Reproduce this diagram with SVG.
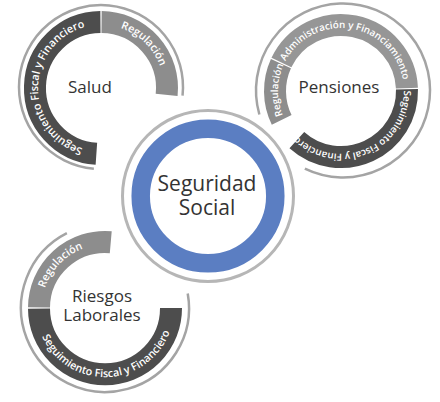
<svg xmlns="http://www.w3.org/2000/svg" width="440" height="402" viewBox="0 0 440 402">
<style>
.ring{fill:none;stroke:#a4a4a4;stroke-width:2.5}
.dark{fill:none;stroke:#4d4d4d;stroke-width:22}
.mid{fill:none;stroke:#8d8d8d;stroke-width:22}
.mid2{fill:none;stroke:#969696;stroke-width:22}
.bl{font-family:"Open Sans","Liberation Sans",sans-serif;font-size:10.8px;font-weight:600;fill:#ffffff}
.bs{font-family:"Open Sans","Liberation Sans",sans-serif;font-size:9.8px;font-weight:600;fill:#ffffff}
.lab{font-family:"Open Sans","Liberation Sans",sans-serif;font-size:17px;fill:#333333;text-anchor:middle}
.big{font-family:"Open Sans","Liberation Sans",sans-serif;font-size:21px;fill:#333333;text-anchor:middle}
</style>
<defs>
<path id="tSaludD" d="M 110.86 150.22 A 63 63 0 1 1 113.02 26.16"/>
<path id="tSaludR" d="M 60.50 39.74 A 63 63 0 0 1 150.65 126.79"/>
<path id="tPenR" d="M 328.98 152.84 A 63 63 0 0 1 331.15 28.78"/>
<path id="tPenA" d="M 278.96 80.06 A 63 63 0 0 1 403.39 99.77"/>
<path id="tPenD" d="M 399.41 67.40 A 63 63 0 0 1 283.45 116.62"/>
<path id="tRieR" d="M 60.45 352.55 A 63 63 0 0 1 147.97 261.92"/>
<path id="tRieD" d="M 36.09 311.61 A 69 69 0 0 0 173.99 306.80"/>
</defs>
<rect width="440" height="402" fill="#ffffff"/>
<g id="salud">
<path class="ring" d="M 93.85 168.69 A 82 82 0 1 1 182.55 95.57"/>
<path class="dark" d="M 96.39 153.84 A 66 66 0 0 1 100.42 22.00"/>
<path class="mid" d="M 101.58 22.00 A 66 66 0 0 1 166.64 94.90"/>
<text class="bl"><textPath href="#tSaludD" startOffset="50%" text-anchor="middle">Seguimiento Fiscal y Financiero</textPath></text>
<text class="bl"><textPath href="#tSaludR" startOffset="50%" text-anchor="middle">Regulación</textPath></text>
<text class="lab" x="90" y="93">Salud</text>
</g>
<g id="pensiones">
<path class="ring" d="M 259.37 114.48 A 87 87 0 1 1 304.86 168.70"/>
<path class="mid" d="M 281.68 119.93 A 66 66 0 0 1 280.94 63.63"/>
<path class="mid2" d="M 281.43 62.59 A 66 66 0 0 1 406.94 88.12"/>
<path class="dark" d="M 406.98 89.27 A 66 66 0 0 1 296.84 140.05"/>
<text class="bs"><textPath href="#tPenR" startOffset="50%" text-anchor="middle">Regulación</textPath></text>
<text class="bs"><textPath href="#tPenA" startOffset="50%" text-anchor="middle">Administración y Financiamiento</textPath></text>
<text class="bs"><textPath href="#tPenD" startOffset="50%" text-anchor="middle">Seguimiento Fiscal y Financiero</textPath></text>
<text class="lab" x="339" y="93">Pensiones</text>
</g>
<g id="riesgos">
<path class="ring" d="M 187.72 293.41 A 84 84 0 1 1 66.86 233.16"/>
<path class="mid" d="M 39.00 307.42 A 66 66 0 0 1 110.75 242.25"/>
<path class="dark" d="M 39.00 308.58 A 66 66 0 0 0 171 308"/>
<text class="bl"><textPath href="#tRieR" startOffset="50%" text-anchor="middle">Regulación</textPath></text>
<text class="bl"><textPath href="#tRieD" startOffset="50%" text-anchor="middle">Seguimiento Fiscal y Financiero</textPath></text>
<text class="lab" x="102" y="302">Riesgos</text>
<text class="lab" x="102" y="321">Laborales</text>
</g>
<g id="seguridad">
<circle cx="208" cy="196" r="85.5" fill="#ffffff" stroke="#b6b6b6" stroke-width="3"/>
<circle cx="208" cy="196" r="67.3" fill="#ffffff" stroke="#5b7ec2" stroke-width="18.5"/>
<text class="big" x="207" y="191">Seguridad</text>
<text class="big" x="207" y="215">Social</text>
</g>
<g id="connectors"></g>
</svg>
